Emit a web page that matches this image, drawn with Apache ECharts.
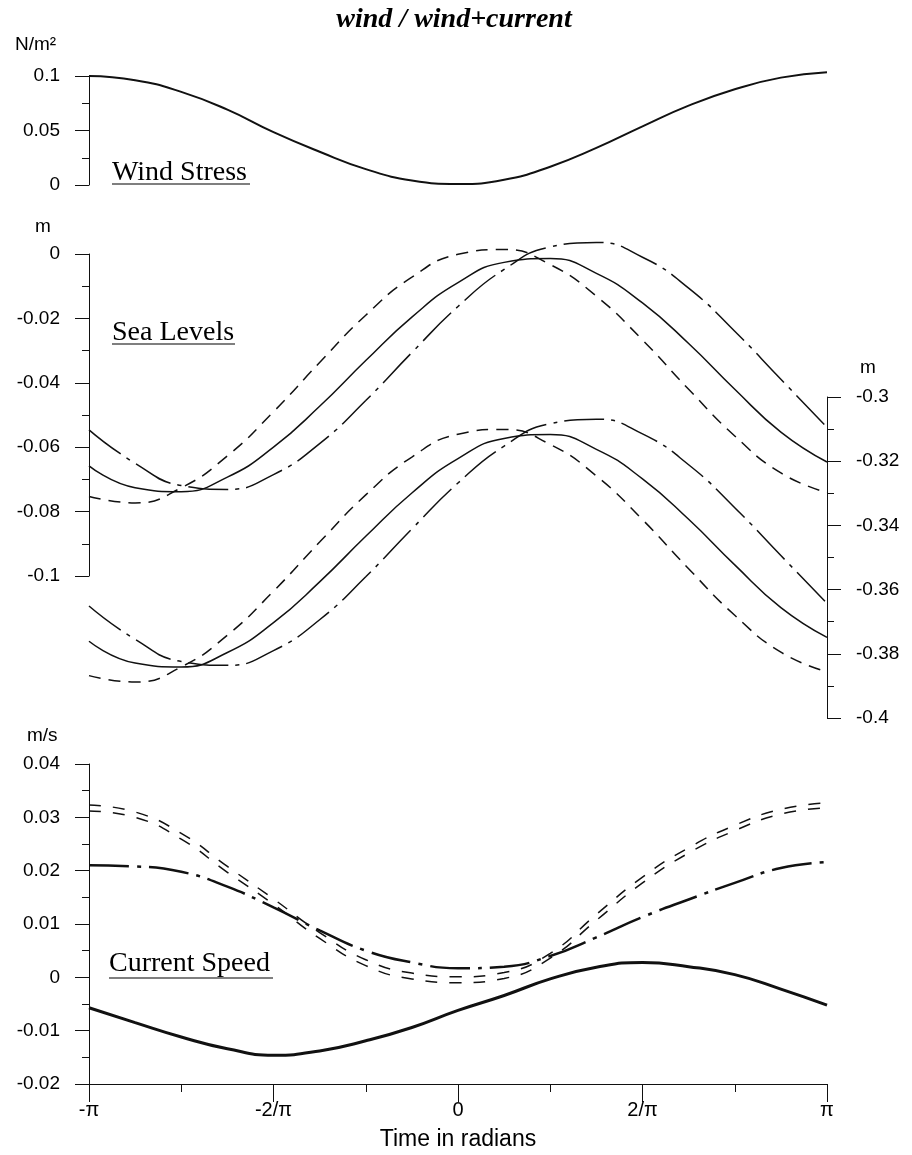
<!DOCTYPE html>
<html>
<head>
<meta charset="utf-8">
<script src="https://cdn.jsdelivr.net/npm/echarts@6/dist/echarts.min.js"></script>
<style>
  html, body { margin: 0; background: #fff; }
  #chart { width: 912px; height: 1155px; }
</style>
</head>
<body>
<div id="chart"></div>
<script>
// time, in units of pi (-pi .. pi)
const timePi = [-1, -0.875, -0.75, -0.625, -0.5, -0.375, -0.25, -0.125, 0,
  0.125, 0.25, 0.375, 0.5, 0.625, 0.75, 0.875, 1]

// wind stress, N/m2
const windStress = [0.1, 0.0962, 0.0854, 0.0691, 0.0485, 0.0305, 0.0146, 0.0042, 0.001,
  0.0048, 0.0168, 0.034, 0.0538, 0.0728, 0.0878, 0.0985, 0.1035]

// sea levels, upper group (left axis), m
const seaSolidA = [-0.0658, -0.0726, -0.0738, -0.0693, -0.06, -0.0473, -0.0331, -0.0196, -0.0089,
  -0.0026, -0.0014, -0.006, -0.0152, -0.0278, -0.042, -0.0553, -0.0646]
const seaDashA = [-0.0753, -0.0773, -0.0726, -0.0627, -0.049, -0.0337, -0.019, -0.0072, -0.0001,
  0.0014, -0.0033, -0.0131, -0.0267, -0.042, -0.0565, -0.068, -0.0741]
const seaDashDotA = [-0.0546, -0.065, -0.0719, -0.0731, -0.0685, -0.0589, -0.0455, -0.0306, -0.0163,
  -0.0048, 0.0022, 0.0036, -0.001, -0.0106, -0.024, -0.0389, -0.0538]

// sea levels, lower group (right axis), m
const seaSolidB = [-0.3761, -0.3829, -0.3841, -0.3796, -0.3703, -0.3576, -0.3434, -0.3299, -0.3192,
  -0.3129, -0.3117, -0.3163, -0.3255, -0.3381, -0.3523, -0.3656, -0.3749]
const seaDashB = [-0.3868, -0.3888, -0.3841, -0.3742, -0.3605, -0.3452, -0.3305, -0.3187, -0.3116,
  -0.3101, -0.3148, -0.3246, -0.3382, -0.3535, -0.368, -0.3795, -0.3856]
const seaDashDotB = [-0.3651, -0.3755, -0.3824, -0.3836, -0.379, -0.3694, -0.356, -0.3411, -0.3268,
  -0.3153, -0.3083, -0.3069, -0.3115, -0.3211, -0.3345, -0.3494, -0.3643]

// current speed, m/s
const curDash1 = [0.0323, 0.031, 0.027, 0.0208, 0.0147, 0.0084, 0.0033, 0.0008, 0.0001,
  0.0009, 0.0045, 0.0118, 0.0188, 0.0243, 0.0285, 0.0315, 0.0327]
const curDash2 = [0.0312, 0.03, 0.0259, 0.0197, 0.0137, 0.0073, 0.0022, -0.0003, -0.001,
  -0.0002, 0.0036, 0.0107, 0.0177, 0.0233, 0.0275, 0.0306, 0.0318]
const curDashDot = [0.021, 0.0208, 0.0198, 0.017, 0.0131, 0.0088, 0.005, 0.0028, 0.0017,
  0.002, 0.004, 0.0075, 0.0113, 0.0146, 0.0177, 0.0205, 0.0216]
const curSolid = [-0.0057, -0.0085, -0.0112, -0.0134, -0.0146, -0.0138, -0.0119, -0.0094, -0.0062,
  -0.0034, -0.0003, 0.0019, 0.0028, 0.002, 0.0005, -0.0022, -0.0052]

const xTickLabels = { '-1': '-π', '-0.5': '-2/π', '0': '0', '0.5': '2/π', '1': 'π' }

const SANS = '"Liberation Sans", Arial, sans-serif'
const SERIF = '"Liberation Serif", "Times New Roman", serif'
const INK = '#111'

const pairs = ys => timePi.map((t, i) => [t, ys[i]])
const fmt = v => String(+v.toFixed(3))

const dashed = [12, 8]
const dashDot = [40, 7, 4, 7]

function line(name, ys, gi, yi, width, type) {
  return {
    name, type: 'line', xAxisIndex: gi, yAxisIndex: yi,
    data: pairs(ys), smooth: true, symbol: 'none', clip: false,
    lineStyle: { color: INK, width, type }
  }
}

function yAx(gridIndex, min, max, interval, position) {
  return {
    type: 'value', gridIndex, min, max, interval, position,
    axisLine: { show: true, onZero: false, lineStyle: { color: INK, width: 1 } },
    axisTick: { show: true, length: 14, lineStyle: { color: INK } },
    minorTick: { show: true, splitNumber: 2, length: 7, lineStyle: { color: INK } },
    splitLine: { show: false },
    minorSplitLine: { show: false },
    axisLabel: { color: '#000', fontSize: 19, fontFamily: SANS, margin: 29, formatter: fmt }
  }
}

function hiddenX(gridIndex) {
  return { type: 'value', gridIndex, min: -1, max: 1, show: false }
}

function label(text, x, y, font) {
  return { type: 'text', x, y, style: { text, font, fill: '#000', textVerticalAlign: 'middle' } }
}
function underline(x1, x2, y) {
  return { type: 'line', shape: { x1, y1: y, x2, y2: y }, style: { stroke: '#000', lineWidth: 1.2 } }
}

const chart = echarts.init(document.getElementById('chart'))
chart.setOption({
  animation: false,
  backgroundColor: '#fff',
  grid: [
    { left: 89, top: 76, width: 738, height: 109 },
    { left: 89, top: 254, width: 738, height: 322 },
    { left: 89, top: 397, width: 738, height: 321 },
    { left: 89, top: 764, width: 738, height: 320 }
  ],
  xAxis: [
    hiddenX(0), hiddenX(1), hiddenX(2),
    {
      type: 'value', gridIndex: 3, min: -1, max: 1, interval: 0.5, position: 'bottom',
      name: 'Time in radians', nameLocation: 'middle', nameGap: 44,
      nameTextStyle: { color: '#000', fontSize: 23, fontFamily: SANS },
      axisLine: { show: true, onZero: false, lineStyle: { color: INK, width: 1 } },
      axisTick: { show: true, length: 18, lineStyle: { color: INK } },
      minorTick: { show: true, splitNumber: 2, length: 8, lineStyle: { color: INK } },
      splitLine: { show: false },
      axisLabel: {
        color: '#000', fontSize: 20, fontFamily: SANS, margin: 16,
        formatter: v => xTickLabels[String(Math.round(v * 4) / 4)] || ''
      }
    }
  ],
  yAxis: [
    yAx(0, 0, 0.1, 0.05, 'left'),
    yAx(1, -0.1, 0, 0.02, 'left'),
    yAx(2, -0.4, -0.3, 0.02, 'right'),
    yAx(3, -0.02, 0.04, 0.01, 'left')
  ],
  series: [
    line('wind stress', windStress, 0, 0, 2, 'solid'),
    line('sea level A', seaSolidA, 1, 1, 1.5, 'solid'),
    line('sea level A dashed', seaDashA, 1, 1, 1.5, dashed),
    line('sea level A dash-dot', seaDashDotA, 1, 1, 1.5, dashDot),
    line('sea level B', seaSolidB, 2, 2, 1.5, 'solid'),
    line('sea level B dashed', seaDashB, 2, 2, 1.5, dashed),
    line('sea level B dash-dot', seaDashDotB, 2, 2, 1.5, dashDot),
    line('current 1', curDash1, 3, 3, 1.5, [12, 12]),
    line('current 2', curDash2, 3, 3, 1.5, [12, 12]),
    line('current dash-dot', curDashDot, 3, 3, 2.5, [40, 8, 4, 8]),
    line('current', curSolid, 3, 3, 3, 'solid')
  ],
  graphic: [
    {
      type: 'text', x: 454, y: 20,
      style: {
        text: 'wind / wind+current', font: 'italic bold 28px ' + SERIF,
        fill: '#000', textAlign: 'center', textVerticalAlign: 'middle'
      }
    },
    label('N/m²', 15, 45, '19px ' + SANS),
    label('m', 35, 227, '19px ' + SANS),
    label('m', 860, 368, '19px ' + SANS),
    label('m/s', 27, 736, '19px ' + SANS),
    label('Wind Stress', 112, 173, '28px ' + SERIF),
    underline(112, 250, 184),
    label('Sea Levels', 112, 333, '28px ' + SERIF),
    underline(112, 235, 344),
    label('Current Speed', 109, 964, '28px ' + SERIF),
    underline(109, 273, 978)
  ]
})
</script>
</body>
</html>
